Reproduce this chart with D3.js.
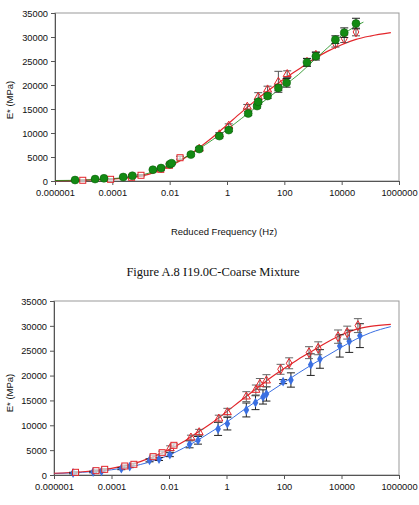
<!DOCTYPE html>
<html><head><meta charset="utf-8">
<script src="https://cdn.jsdelivr.net/npm/d3@7"></script>
<style>body{margin:0;background:#fff}svg{display:block}</style>
</head><body>
<svg id="c" width="419" height="505"></svg>
<script>
// ---------- DATA ----------
const xTicks = [1e-6, 1e-4, 1e-2, 1, 100, 1e4, 1e6];
const xTickLabels = ["0.000001", "0.0001", "0.01", "1", "100", "10000", "1000000"];
const yTicks = [0, 5000, 10000, 15000, 20000, 25000, 30000, 35000];

// Top chart: green series
const topGreenFreq = [5.0e-6, 2.5e-5, 5.1e-5, 2.4e-4, 5.0e-4, 2.6e-3, 5.0e-3, 0.0102, 0.0117, 0.055, 0.107, 0.54, 1.15, 5.5, 11.2, 12.3, 26, 62, 120, 617, 1260, 6030, 12300, 31600];
const topGreenE = [200, 400, 550, 830, 1100, 2350, 2700, 3500, 3700, 5500, 6650, 9350, 10600, 14070, 15600, 16500, 17700, 19400, 20450, 24700, 26000, 29450, 30900, 32800];
const topGreenErr = [100, 100, 100, 150, 200, 150, 200, 250, 250, 300, 300, 400, 300, 400, 400, 500, 500, 600, 900, 800, 800, 800, 1000, 1100];
// Top chart: red series
const topRedFreq = [9.3e-6, 8.7e-5, 4.7e-4, 1.0e-3, 4.9e-3, 9.8e-3, 0.023, 0.107, 0.54, 1.15, 5.1, 12.3, 26, 62, 126, 617, 1260, 6030, 12300, 31600];
const topRedE = [150, 350, 770, 1190, 2430, 3270, 4850, 6700, 9700, 11500, 15450, 17500, 19050, 20650, 22250, 24750, 26200, 28600, 29650, 31050];
const topRedErr = [100, 100, 100, 150, 200, 300, 300, 300, 400, 400, 500, 900, 700, 2200, 700, 800, 700, 700, 800, 800];
const topRedShape = ["s","s","s","s","s","s","s","t","t","t","t","t","t","t","t","d","d","d","d","d"];
// Top chart: fitted curves
const topRedFitFreq = [1e-6, 1e-5, 1e-4, 1e-3, 1e-2, 3.16e-2, 0.1, 0.316, 1, 3.16, 10, 31.6, 100, 316, 1000, 3160, 1e4, 3.16e4, 1e5, 5.2e5];
const topRedFitE = [50, 150, 400, 1000, 3100, 4700, 6800, 9100, 11700, 14300, 16800, 19100, 21300, 23300, 25300, 27000, 28400, 29500, 30200, 30900];
const topGreenFitFreq = [1e-6, 1e-5, 1e-4, 1e-3, 1e-2, 3.16e-2, 0.1, 0.316, 1, 3.16, 10, 31.6, 100, 316, 1000, 3160, 1e4, 3.16e4, 5.75e4];
const topGreenFitE = [100, 200, 500, 1200, 3300, 4800, 6600, 8600, 10700, 13000, 15300, 17600, 19900, 22200, 25000, 27700, 30300, 32300, 33100];

// Bottom chart: blue series
const botBlueFreq = [4.6e-6, 2.3e-5, 4.5e-5, 2.2e-4, 4.3e-4, 2.1e-3, 4.5e-3, 0.0107, 0.052, 0.102, 0.51, 1.07, 4.9, 10.2, 18.6, 24.5, 93, 174, 851, 1780, 8710, 18600, 43700];
const botBlueE = [400, 600, 740, 1270, 1680, 2950, 3220, 4090, 6170, 6980, 9260, 10330, 13080, 14550, 15700, 16300, 18780, 19110, 22200, 23340, 25960, 26900, 28030];
const botBlueErr = [150, 150, 150, 200, 200, 300, 300, 400, 700, 770, 1300, 1270, 1400, 1400, 1430, 1430, 400, 1440, 2170, 1870, 2240, 2240, 2400];
// Bottom chart: red series
const botRedFreq = [5.6e-6, 2.9e-5, 5.8e-5, 2.9e-4, 6.0e-4, 2.8e-3, 5.8e-3, 0.011, 0.0148, 0.058, 0.112, 0.54, 1.07, 4.9, 10.5, 14.5, 24.5, 76, 151, 741, 1550, 7590, 15800, 37200];
const botRedE = [540, 870, 1140, 1810, 2150, 3690, 4490, 5370, 5970, 7510, 8580, 11330, 12610, 15760, 17100, 18310, 18980, 21260, 22470, 24610, 25490, 27830, 28640, 30050];
const botRedErr = [150, 150, 150, 200, 200, 300, 300, 500, 300, 500, 600, 700, 800, 1000, 1000, 1100, 1200, 1000, 1100, 1200, 1300, 1340, 1300, 1400];
const botRedShape = ["s","s","s","s","s","s","s","t","s","t","t","t","t","t","t","t","t","d","d","d","d","d","d","d"];
// Bottom chart: fitted curves
const fitFreq = [1e-6, 1e-5, 1e-4, 1e-3, 1e-2, 3.16e-2, 0.1, 0.316, 1, 3.16, 10, 31.6, 100, 316, 1000, 3160, 1e4, 3.16e4, 1e5, 5.2e5];
const botRedFitE = [350, 650, 1350, 2700, 5100, 6700, 8600, 10500, 12700, 15000, 17200, 19400, 21400, 23300, 25000, 26700, 28200, 29300, 29900, 30300];
const botBlueFitE = [300, 550, 1050, 2100, 4000, 5400, 7000, 8800, 10600, 12700, 14700, 16700, 18600, 20500, 22300, 24000, 25700, 27300, 28600, 29850];

const caption = "Figure A.8 I19.0C-Coarse Mixture";

// ---------- DRAW ----------
const svg = d3.select("#c");
svg.append("rect").attr("width", 419).attr("height", 505).attr("fill", "#fff");
const SANS = "'Liberation Sans', Arial, sans-serif";

function chart(box, series, titleX) {
  const x = d3.scaleLog().domain([1e-6, 1e6]).range([box.l, box.r]);
  const y = d3.scaleLinear().domain([0, 35000]).range([box.b, box.t]);
  const g = svg.append("g");
  g.append("rect").attr("x", box.l).attr("y", box.t).attr("width", box.r - box.l).attr("height", box.b - box.t)
    .attr("fill", "none").attr("stroke", "#999").attr("stroke-width", 1);

  const xa = g.append("g").attr("transform", `translate(0,${box.b})`)
    .call(d3.axisBottom(x).tickValues(xTicks).tickFormat((d, i) => xTickLabels[i]).tickSize(4).tickPadding(4));
  const ya = g.append("g").attr("transform", `translate(${box.l},0)`)
    .call(d3.axisLeft(y).tickValues(yTicks).tickFormat(d3.format("d")).tickSize(4).tickPadding(3));
  [xa, ya].forEach(a => {
    a.select(".domain").attr("stroke", "#555");
    a.selectAll(".tick line").attr("stroke", "#555");
    a.selectAll("text").attr("font-family", SANS).attr("font-size", "9.3px").attr("fill", "#111");
  });
  ya.selectAll("text").attr("dy", "0.35em");

  g.append("text").attr("transform", `translate(13,${box.yl}) rotate(-90)`).attr("text-anchor", "middle")
    .attr("font-family", SANS).attr("font-size", "9.5px").attr("fill", "#111").text("E* (MPa)");
  if (titleX) {
    g.append("text").attr("x", 224).attr("y", titleX).attr("text-anchor", "middle")
      .attr("font-family", SANS).attr("font-size", "9.5px").attr("fill", "#111").text("Reduced Frequency (Hz)");
  }

  const line = d3.line().x(d => x(d[0])).y(d => y(d[1])).curve(d3.curveMonotoneX);
  series.filter(s => s.fit).forEach(s => {
    g.append("path").datum(d3.zip(s.fit[0], s.fit[1])).attr("d", line)
      .attr("fill", "none").attr("stroke", s.color).attr("stroke-width", s.lw);
  });

  series.forEach(s => {
    const pts = s.f.map((f, i) => ({ f, e: s.e[i], err: s.err[i], sh: s.shape ? s.shape[i] : s.marker }));
    const eb = g.append("g");
    pts.forEach(p => {
      const xx = x(p.f), y1 = y(p.e + p.err), y2 = y(p.e - p.err);
      eb.append("line").attr("x1", xx).attr("x2", xx).attr("y1", y1).attr("y2", y2).attr("stroke", s.ebc).attr("stroke-width", 1);
      [y1, y2].forEach(yy => eb.append("line").attr("x1", xx - 4).attr("x2", xx + 4).attr("y1", yy).attr("y2", yy).attr("stroke", s.ebc).attr("stroke-width", 1));
    });
    const mk = g.append("g");
    pts.forEach(p => {
      const xx = x(p.f), yy = y(p.e);
      if (p.sh === "c") {
        mk.append("circle").attr("cx", xx).attr("cy", yy).attr("r", 4).attr("fill", s.color).attr("stroke", "#0a5d0a").attr("stroke-width", 0.5);
      } else if (p.sh === "D") {
        mk.append("path").attr("d", d3.symbol(d3.symbolDiamond, 28)()).attr("transform", `translate(${xx},${yy})`).attr("fill", s.color);
      } else if (p.sh === "s") {
        mk.append("rect").attr("x", xx - 3).attr("y", yy - 3).attr("width", 6).attr("height", 6).attr("fill", "#fff").attr("fill-opacity", 0.6).attr("stroke", s.color).attr("stroke-width", 1);
      } else if (p.sh === "t") {
        mk.append("path").attr("d", d3.symbol(d3.symbolTriangle, 28)()).attr("transform", `translate(${xx},${yy})`).attr("fill", "none").attr("stroke", s.color).attr("stroke-width", 1);
      } else {
        mk.append("path").attr("d", d3.symbol(d3.symbolDiamond, 28)()).attr("transform", `translate(${xx},${yy})`).attr("fill", "none").attr("stroke", s.color).attr("stroke-width", 1);
      }
    });
  });
}

chart({ l: 55, r: 399, t: 13, b: 181, yl: 100 }, [
  { f: topRedFreq, e: topRedE, err: topRedErr, shape: topRedShape, color: "#e3262b", ebc: "#555", fit: [topRedFitFreq, topRedFitE], lw: 1.2 },
  { f: topGreenFreq, e: topGreenE, err: topGreenErr, marker: "c", color: "#138a13", ebc: "#222", fit: [topGreenFitFreq, topGreenFitE], lw: 0.8 }
], 235);

chart({ l: 54, r: 399, t: 301, b: 475, yl: 393 }, [
  { f: botBlueFreq, e: botBlueE, err: botBlueErr, marker: "D", color: "#3a6fe2", ebc: "#222", fit: [fitFreq, botBlueFitE], lw: 1 },
  { f: botRedFreq, e: botRedE, err: botRedErr, shape: botRedShape, color: "#e3262b", ebc: "#666", fit: [fitFreq, botRedFitE], lw: 1.2 }
], null);

svg.append("text").attr("x", 213).attr("y", 276).attr("text-anchor", "middle")
  .attr("font-family", "'Liberation Serif', 'Times New Roman', serif").attr("font-size", "12.5px").attr("fill", "#111").text(caption);
</script>
</body></html>
